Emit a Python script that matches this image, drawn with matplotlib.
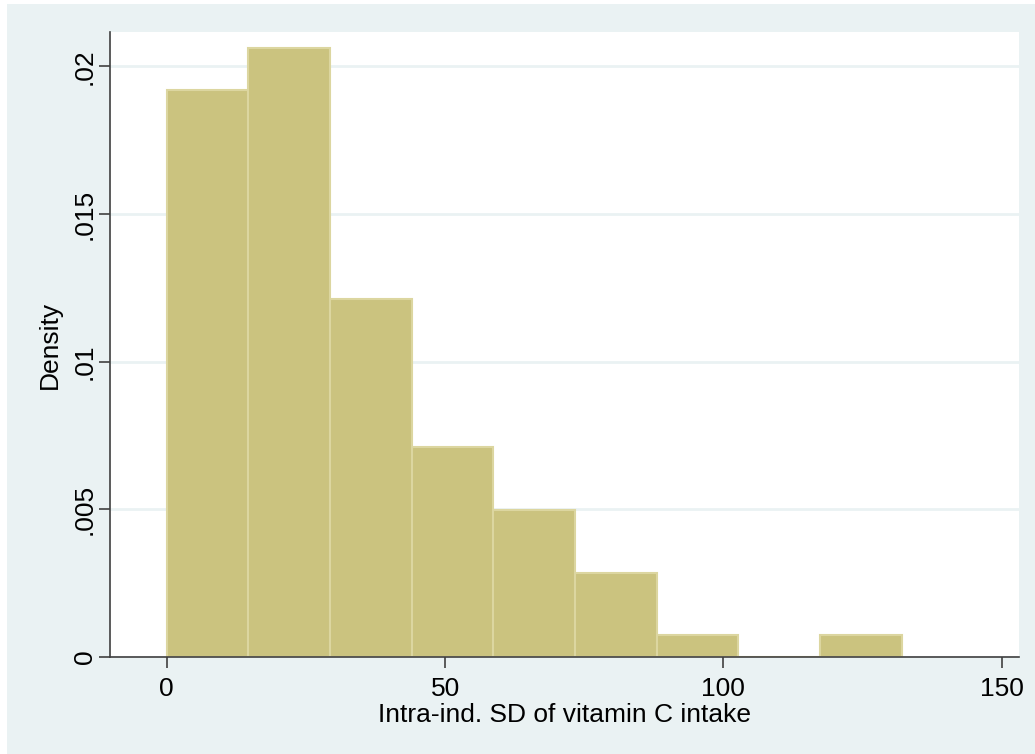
import matplotlib.pyplot as plt
from matplotlib.patches import Rectangle

plt.rcParams['font.family'] = ['Liberation Sans', 'DejaVu Sans']

# histogram bins (left edges) and densities
bin_width = 132 / 9
bin_lefts = [i * bin_width for i in range(9)]
density = [0.0192, 0.02063, 0.01212, 0.00711, 0.00498, 0.00284, 0.000735, 0.0, 0.000735]
xticks = [0, 50, 100, 150]
yticks = [0, 0.005, 0.01, 0.015, 0.02]
ytick_labels = ['0', '.005', '.01', '.015', '.02']

bg = '#eaf2f3'
fig = plt.figure(figsize=(10.35, 7.54), dpi=100)
fig.patch.set_facecolor('white')
fig.patches.append(Rectangle((7 / 1035, 0), 1 - 7 / 1035, 1 - 4 / 754,
                             transform=fig.transFigure, facecolor=bg,
                             edgecolor='none', zorder=-10))

ax = fig.add_axes([110 / 1035, 97 / 754, 909 / 1035, 625 / 754])
ax.set_facecolor('white')

ax.bar(bin_lefts, density, width=bin_width, align='edge',
       color='#cbc37f', edgecolor='#dcd6a0', linewidth=1.5, zorder=2)

ax.set_xlim(-10.2, 153.1)
ax.set_ylim(0, 0.021165)
ax.set_xticks(xticks)
ax.set_yticks(yticks)
ax.set_yticklabels(ytick_labels, rotation=90, va='center')
ax.yaxis.grid(True, color=bg, linewidth=2, zorder=0)
ax.set_axisbelow(True)

for s in ['top', 'right']:
    ax.spines[s].set_visible(False)
for s in ['left', 'bottom']:
    ax.spines[s].set_color('#404040')
    ax.spines[s].set_linewidth(1.2)
ax.tick_params(direction='out', length=8, width=1.2, color='#404040',
               labelsize=19)
ax.tick_params(axis='x', pad=6.5)
ax.tick_params(axis='y', pad=1.5)

ax.set_xlabel('Intra-ind. SD of vitamin C intake', fontsize=19, labelpad=1)
ax.set_ylabel('Density', fontsize=19, labelpad=8)

fig.savefig('out.png', dpi=100, facecolor=fig.get_facecolor())
